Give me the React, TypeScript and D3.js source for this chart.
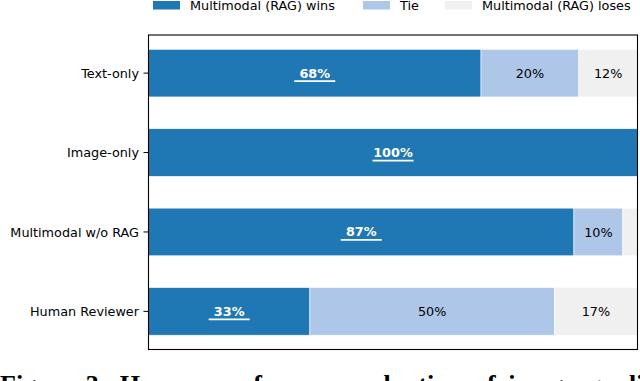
import React from "react";
import * as d3 from "d3";

const categories = ["Text-only", "Image-only", "Multimodal w/o RAG", "Human Reviewer"];
const wins = [68, 100, 87, 33];
const ties = [20, 0, 10, 50];
const loses = [12, 0, 3, 17];
const seriesNames = ["Multimodal (RAG) wins", "Tie", "Multimodal (RAG) loses"];
const seriesColors = ["#1f77b4", "#aec7e8", "#f0f0f0"];
const caption = "Figure 3: Human preference evaluation of image quality";

const W = 640;
const H = 381;
const left = 148.5;
const right = 637.5;
const top = 35;
const bottom = 349.5;
const FS = 12.8;
const FONT = "'DejaVu Sans', sans-serif";

export default function App() {
  const x = d3.scaleLinear().domain([0, 100]).range([left, right]);
  const y = d3.scaleLinear().domain([-0.48, 3.48]).range([top, bottom]);
  const barH = y(0.6) - y(0);

  const stack = categories.map((c, i) => {
    const vals = [wins[i], ties[i], loses[i]];
    let acc = 0;
    return vals.map((v, k) => {
      const s = { k, x0: acc, x1: acc + v, v };
      acc += v;
      return s;
    });
  });

  const legendX = [153, 363, 445];

  return (
    <div>
      <style>{`body{margin:0}`}</style>
      <svg width={W} height={H} style={{ display: "block" }}>
        <rect x={0} y={0} width={W} height={H} fill="#fff" />
        {/* legend */}
        {seriesNames.map((n, k) => (
          <g key={n}>
            <rect x={legendX[k]} y={1} width={27} height={8.5} fill={seriesColors[k]} />
            <text x={legendX[k] + 37} y={9.8} fontSize={FS} fontFamily={FONT} fill="#000">
              {n}
            </text>
          </g>
        ))}
        {/* bars */}
        {stack.map((segs, i) => {
          const cy = y(i);
          return (
            <g key={categories[i]}>
              {segs.map((s) =>
                s.v > 0 ? (
                  <rect
                    key={s.k}
                    x={x(s.x0)}
                    y={cy - barH / 2}
                    width={x(s.x1) - x(s.x0)}
                    height={barH}
                    fill={seriesColors[s.k]}
                    stroke="#fff"
                    strokeWidth={0.6}
                  />
                ) : null
              )}
              {segs.map((s) => {
                if (s.v < 5) return null;
                const cx = (x(s.x0) + x(s.x1)) / 2;
                if (s.k === 0) {
                  return (
                    <g key={"l" + s.k}>
                      <text
                        x={cx}
                        y={cy + 4.5}
                        textAnchor="middle"
                        fontSize={FS}
                        fontFamily={FONT}
                        fontWeight="bold"
                        fill="#fff"
                      >
                        {s.v + "%"}
                      </text>
                      <line x1={cx - 20.5} x2={cx + 20.5} y1={cy + 8} y2={cy + 8} stroke="#fff" strokeWidth={1.8} />
                    </g>
                  );
                }
                return (
                  <text
                    key={"l" + s.k}
                    x={cx}
                    y={cy + 4.6}
                    textAnchor="middle"
                    fontSize={FS}
                    fontFamily={FONT}
                    fill="#000"
                  >
                    {s.v + "%"}
                  </text>
                );
              })}
            </g>
          );
        })}
        {/* y axis ticks */}
        {categories.map((c, i) => (
          <g key={"t" + c}>
            <line x1={left - 5} x2={left} y1={y(i)} y2={y(i)} stroke="#000" strokeWidth={1} />
            <text
              x={left - 9.5}
              y={y(i) + 4.6}
              textAnchor="end"
              fontSize={FS}
              fontFamily={FONT}
              fill="#000"
            >
              {c}
            </text>
          </g>
        ))}
        {/* frame */}
        <rect x={left} y={top} width={right - left} height={bottom - top} fill="none" stroke="#000" strokeWidth={1.1} />
        {/* caption (clipped by the picture's bottom edge, as in the reference) */}
        <text
          x={0}
          y={393}
          fontSize={26}
          fontFamily="'Liberation Serif', serif"
          fontWeight="bold"
          fill="#000"
          wordSpacing={6}
        >
          {caption}
        </text>
      </svg>
    </div>
  );
}
